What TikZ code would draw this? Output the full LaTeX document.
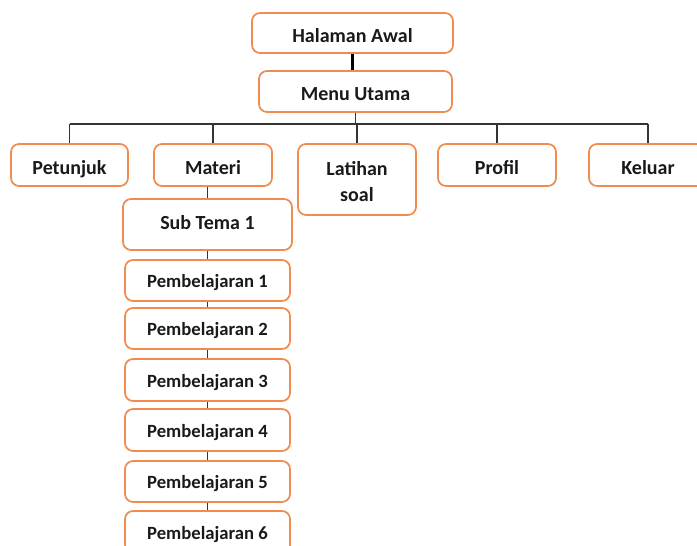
\documentclass[tikz,border=0pt]{standalone}
\usepackage{fontspec}
\setmainfont{Carlito}
\definecolor{boxorange}{HTML}{F28C4E}
\definecolor{linegray}{HTML}{333333}
\definecolor{txt}{HTML}{1A1A1A}
\tikzset{
  box/.style={draw=boxorange, line width=1.3pt, rounded corners=6pt, fill=white,
    inner sep=0pt, text=txt, text height=14.1pt, text depth=0pt,
    font=\fontsize{15}{19.5}\selectfont\bfseries},
  pbox/.style={box, minimum width=123.75pt, text height=10.5pt, text depth=0pt,
    font=\fontsize{14}{18}\selectfont\bfseries},
  conn/.style={draw=linegray, line width=1.1pt},
  thickconn/.style={draw=black, line width=2.2pt}
}
\begin{document}
\begin{tikzpicture}[x=0.75pt,y=-0.75pt]
\useasboundingbox (0,0) rectangle (697,546);
\clip (0,0) rectangle (697,546);
% top
\node[box, minimum width=150.75pt, minimum height=30pt] (ha) at (352.5,33) {Halaman Awal};
\node[box, minimum width=144.75pt, minimum height=30.75pt] (mu) at (355.5,91.5) {Menu Utama};
% second level
\node[box, minimum width=87.75pt, minimum height=31.5pt] (pet) at (69.5,165) {Petunjuk};
\node[box, minimum width=88.5pt, minimum height=31.5pt] (mat) at (213,165) {Materi};
\node[box, minimum width=88.5pt, minimum height=53.25pt, text height=29.25pt, text depth=15.75pt] (lat) at (357,179.5) {\begin{tabular}{@{}c@{}}Latihan\\soal\end{tabular}};
\node[box, minimum width=88.5pt, minimum height=31.5pt] (pro) at (497,165) {Profil};
\node[box, minimum width=88.5pt, minimum height=31.5pt] (kel) at (648,165) {Keluar};
% materi branch
\node[box, minimum width=126.75pt, minimum height=38.25pt, text height=7.1pt] (st) at (207.5,224.5) {Sub Tema 1};
\node[pbox, minimum height=30.75pt] (p1) at (207.5,280.5) {Pembelajaran 1};
\node[pbox, minimum height=30.75pt] (p2) at (207.5,328.5) {Pembelajaran 2};
\node[pbox, minimum height=31.5pt] (p3) at (207.5,380) {Pembelajaran 3};
\node[pbox, minimum height=31.5pt] (p4) at (207.5,430) {Pembelajaran 4};
\node[pbox, minimum height=30.75pt] (p5) at (207.5,481.5) {Pembelajaran 5};
\node[pbox, minimum height=31.5pt] (p6) at (207.5,532) {Pembelajaran 6};
% connectors
\coordinate (busL) at (70,124);
\coordinate (busR) at (648,124);
\draw[thickconn] (ha.south) -- (ha.south |- mu.north);
\draw[conn] (mu.south) -- (mu.south |- busL);
\draw[conn] (busL) -- (busR);
\foreach \n in {pet,mat,lat,pro,kel}{
  \draw[conn] (\n.north) -- (\n.north |- busL);
}
\draw[conn] (st.north) -- (st.north |- mat.south);
\draw[conn] (st.south) -- (p1.north);
\draw[conn] (p1.south) -- (p2.north);
\draw[conn] (p2.south) -- (p3.north);
\draw[conn] (p3.south) -- (p4.north);
\draw[conn] (p4.south) -- (p5.north);
\draw[conn] (p5.south) -- (p6.north);
\end{tikzpicture}
\end{document}
